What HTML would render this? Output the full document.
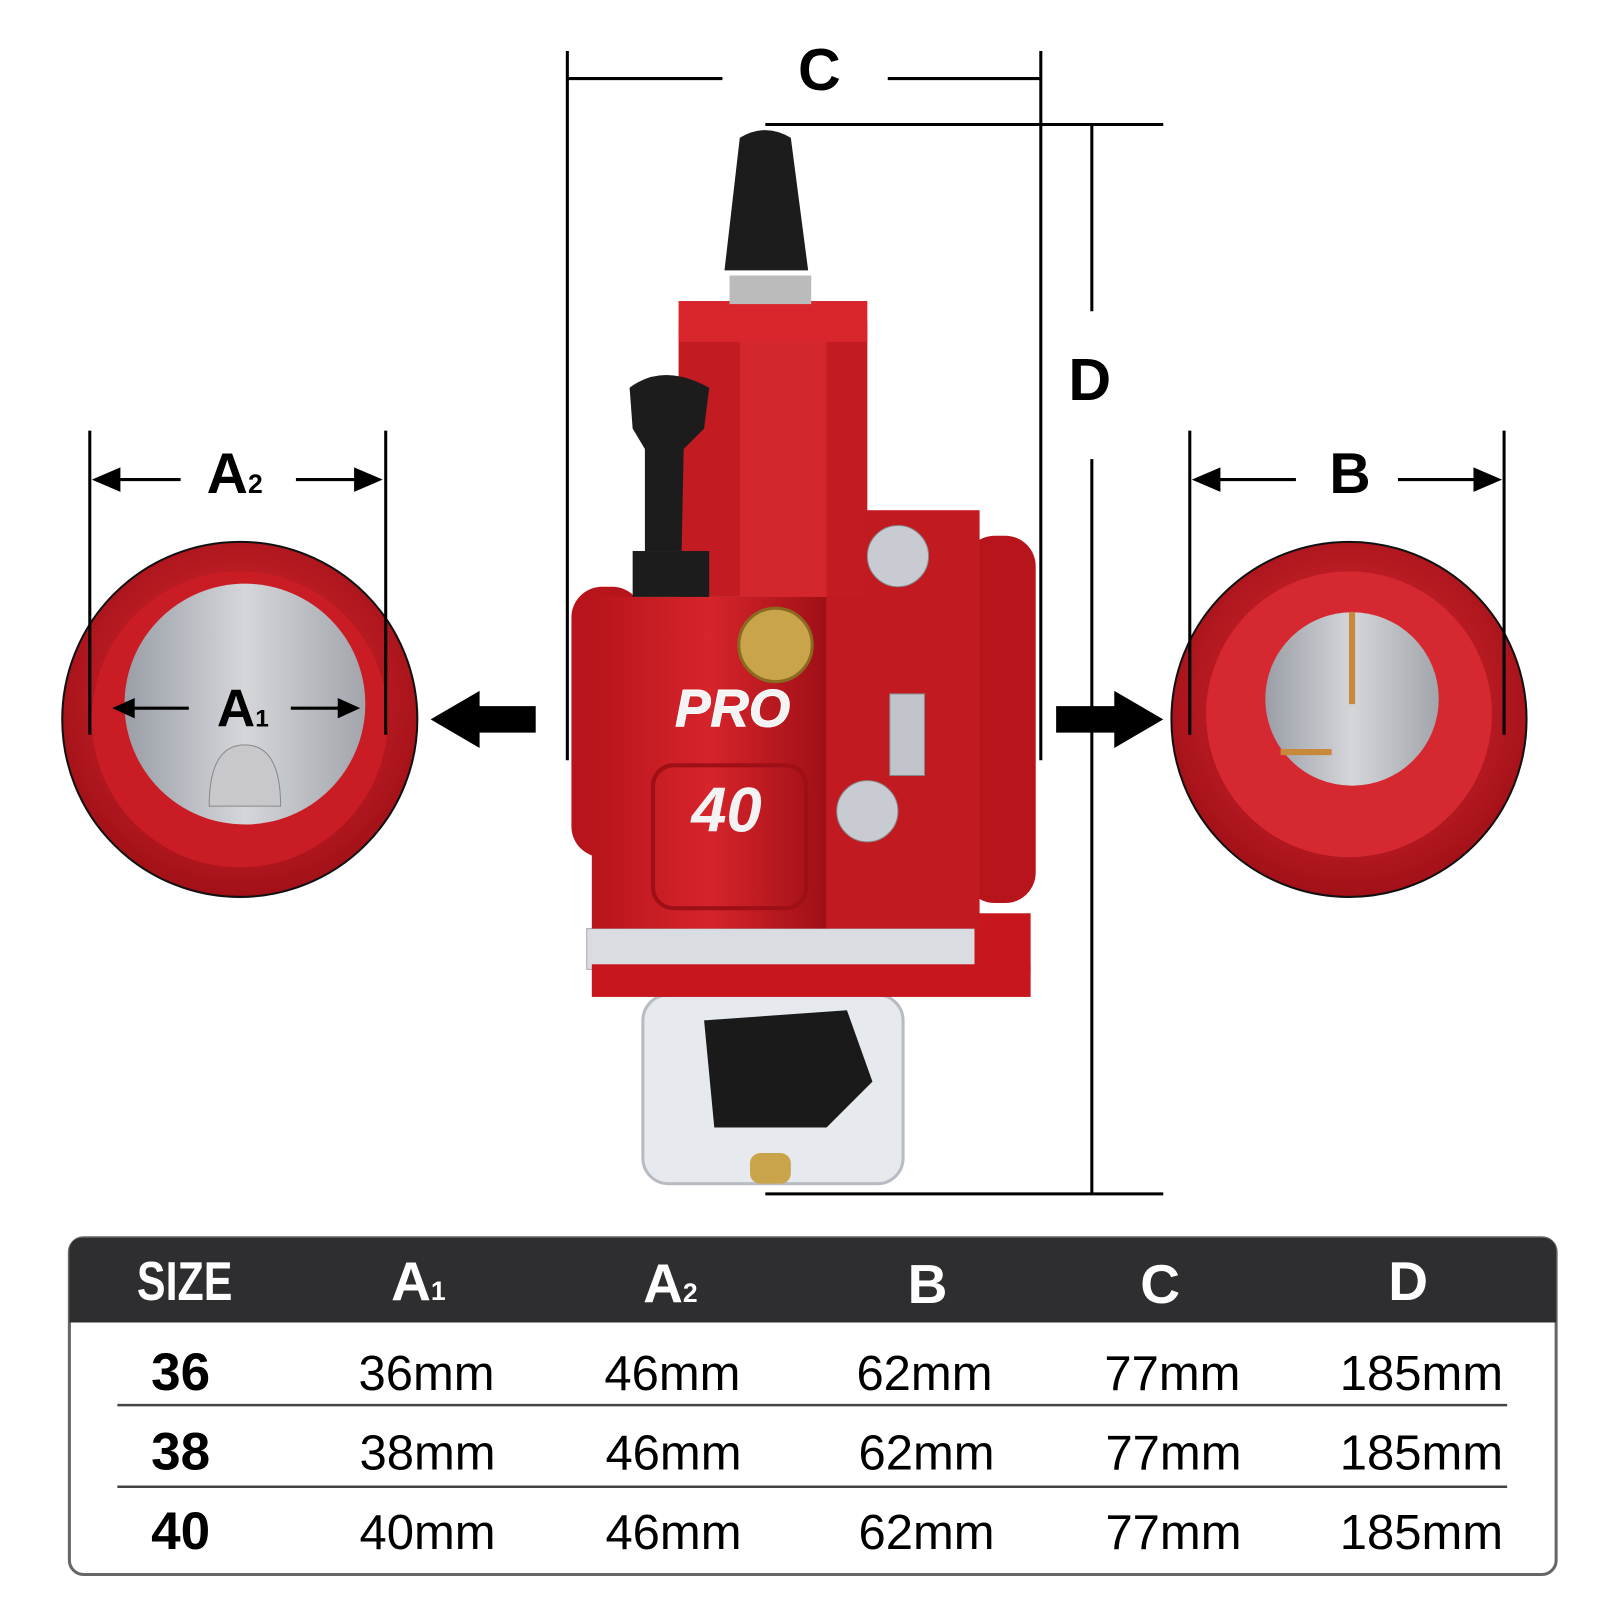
<!DOCTYPE html>
<html><head><style>html,body{margin:0;padding:0;background:#fff;width:1600px;height:1600px;overflow:hidden}</style></head>
<body>
<svg width="1600" height="1600" viewBox="0 0 1568 1568" xmlns="http://www.w3.org/2000/svg" font-family="Liberation Sans, sans-serif">
<defs>
<radialGradient id="rg" cx="50%" cy="45%" r="60%"><stop offset="0" stop-color="#e8333a"/><stop offset="1" stop-color="#9c0d14"/></radialGradient>
<linearGradient id="body" x1="0" x2="1"><stop offset="0" stop-color="#b8141b"/><stop offset=".5" stop-color="#d6242b"/><stop offset="1" stop-color="#a00f16"/></linearGradient>
<linearGradient id="metal" x1="0" x2="1"><stop offset="0" stop-color="#9a9ea6"/><stop offset=".5" stop-color="#d4d6da"/><stop offset="1" stop-color="#a2a5ab"/></linearGradient>
</defs>
<g stroke="#000" stroke-width="3" fill="none">
<line x1="556" y1="50" x2="556" y2="745"/><line x1="1020" y1="50" x2="1020" y2="745"/>
<line x1="556" y1="77" x2="708" y2="77"/><line x1="870" y1="77" x2="1020" y2="77"/>
<line x1="750" y1="122" x2="1140" y2="122"/><line x1="750" y1="1170" x2="1140" y2="1170"/>
<line x1="1070" y1="122" x2="1070" y2="305"/><line x1="1070" y1="450" x2="1070" y2="1170"/>
</g>
<text x="803" y="88" font-size="58" font-weight="bold" text-anchor="middle">C</text>
<text x="1068" y="392" font-size="58" font-weight="bold" text-anchor="middle">D</text>
<circle cx="235" cy="705" r="174" fill="url(#rg)" stroke="#111" stroke-width="2"/>
<circle cx="235" cy="705" r="145" fill="#c91c24"/>
<circle cx="240" cy="690" r="118" fill="url(#metal)"/>
<path d="M205 790 Q205 730 240 730 Q275 730 275 790 Z" fill="#c8c8cc" stroke="#888"/>
<circle cx="1322" cy="705" r="174" fill="url(#rg)" stroke="#111" stroke-width="2"/>
<circle cx="1322" cy="700" r="140" fill="#d62830"/>
<circle cx="1325" cy="685" r="85" fill="url(#metal)"/>
<line x1="1325" y1="600" x2="1325" y2="690" stroke="#c88a3a" stroke-width="6"/>
<line x1="1255" y1="737" x2="1305" y2="737" stroke="#c88a3a" stroke-width="6"/>
<g stroke="#000" stroke-width="3">
<line x1="88" y1="422" x2="88" y2="720"/><line x1="378" y1="422" x2="378" y2="720"/>
<line x1="1166" y1="422" x2="1166" y2="720"/><line x1="1474" y1="422" x2="1474" y2="720"/>
<line x1="105" y1="470" x2="177" y2="470"/><line x1="290" y1="470" x2="360" y2="470"/>
<line x1="1185" y1="470" x2="1270" y2="470"/><line x1="1370" y1="470" x2="1455" y2="470"/>
<line x1="125" y1="694" x2="185" y2="694"/><line x1="285" y1="694" x2="338" y2="694"/>
</g>
<g fill="#000">
<path d="M90 470 L118 458 L118 482Z"/><path d="M375 470 L347 458 L347 482Z"/>
<path d="M1168 470 L1196 458 L1196 482Z"/><path d="M1472 470 L1444 458 L1444 482Z"/>
<path d="M110 694 L132 684 L132 704Z"/><path d="M353 694 L331 684 L331 704Z"/>
<path d="M422 705 L470 677 L470 692 L525 692 L525 718 L470 718 L470 733Z"/>
<path d="M1140 705 L1092 677 L1092 692 L1035 692 L1035 718 L1092 718 L1092 733Z"/>
</g>
<text x="230" y="483" font-size="56" font-weight="bold" text-anchor="middle">A<tspan font-size="26">2</tspan></text>
<text x="1323" y="483" font-size="56" font-weight="bold" text-anchor="middle">B</text>
<text x="238" y="712" font-size="52" font-weight="bold" text-anchor="middle">A<tspan font-size="24">1</tspan></text>
<rect x="630" y="975" width="255" height="185" rx="25" fill="#e6eaee" stroke="#b8bcc2" stroke-width="3"/>
<path d="M690 1000 L830 990 L855 1060 L810 1105 L700 1105Z" fill="#1a1a1a"/>
<rect x="575" y="910" width="390" height="40" fill="#d9dde2" stroke="#aaa"/>
<rect x="580" y="945" width="430" height="32" fill="#c8161e"/>
<rect x="955" y="895" width="55" height="60" fill="#c8161e"/>
<rect x="560" y="575" width="70" height="265" rx="30" fill="#b8141b"/>
<rect x="945" y="525" width="70" height="360" rx="30" fill="#b8141b"/>
<rect x="580" y="585" width="230" height="325" fill="url(#body)"/>
<rect x="810" y="500" width="150" height="410" fill="#c11a21"/>
<rect x="665" y="315" width="185" height="270" fill="#c31b22"/>
<rect x="725" y="320" width="85" height="265" fill="#d3262d"/>
<rect x="665" y="295" width="185" height="40" fill="#d9262d"/>
<rect x="715" y="270" width="80" height="28" fill="#bbb"/>
<path d="M725 135 Q750 120 775 135 L792 265 L710 265Z" fill="#1c1c1c"/>
<path d="M617 380 Q650 355 695 380 L690 420 L670 440 L668 540 L632 540 L632 440 L620 420Z" fill="#1c1c1c"/>
<rect x="620" y="540" width="75" height="45" fill="#1c1c1c"/>
<circle cx="760" cy="632" r="36" fill="#c9a44a" stroke="#8a6a20" stroke-width="3"/>
<circle cx="880" cy="545" r="30" fill="#c8ccd2" stroke="#888"/>
<circle cx="850" cy="795" r="30" fill="#c8ccd2" stroke="#888"/>
<rect x="872" y="680" width="34" height="80" fill="#c0c4ca" stroke="#888"/>
<rect x="640" y="750" width="150" height="140" rx="20" fill="none" stroke="#9e0f16" stroke-width="4"/>
<text x="718" y="712" font-size="52" font-weight="bold" font-style="italic" fill="#f3f3f3" text-anchor="middle" stroke="#fff" stroke-width="1">PRO</text>
<text x="712" y="815" font-size="62" font-weight="bold" font-style="italic" fill="#f3f3f3" text-anchor="middle">40</text>
<rect x="735" y="1130" width="40" height="30" rx="10" fill="#c9a44a"/>
<rect x="68" y="1213" width="1457" height="330" rx="14" fill="#fff" stroke="#666" stroke-width="3"/>
<path d="M82 1213 H1511 Q1525 1213 1525 1227 V1296 H68 V1227 Q68 1213 82 1213Z" fill="#2e2d2f"/>
<g fill="#fff" font-size="54" font-weight="bold" text-anchor="middle">
<text x="181" y="1274" transform="translate(181 0) scale(0.78 1) translate(-181 0)">SIZE</text>
<text x="410" y="1274">A<tspan font-size="26">1</tspan></text>
<text x="657" y="1276">A<tspan font-size="26">2</tspan></text>
<text x="909" y="1277">B</text>
<text x="1137" y="1277">C</text>
<text x="1380" y="1274">D</text>
</g>
<g stroke="#444" stroke-width="2.5"><line x1="115" y1="1377" x2="1477" y2="1377"/><line x1="115" y1="1457" x2="1477" y2="1457"/></g>
<g font-size="48" text-anchor="middle" fill="#000">
<g font-weight="bold" font-size="52"><text x="177" y="1362">36</text><text x="177" y="1440">38</text><text x="177" y="1518">40</text></g>
<text x="418" y="1362">36mm</text><text x="419" y="1440">38mm</text><text x="419" y="1518">40mm</text>
<text x="659" y="1362">46mm</text><text x="660" y="1440">46mm</text><text x="660" y="1518">46mm</text>
<text x="906" y="1362">62mm</text><text x="908" y="1440">62mm</text><text x="908" y="1518">62mm</text>
<text x="1149" y="1362">77mm</text><text x="1150" y="1440">77mm</text><text x="1150" y="1518">77mm</text>
<text x="1393" y="1362">185mm</text><text x="1393" y="1440">185mm</text><text x="1393" y="1518">185mm</text>
</g>
</svg>
</body></html>
